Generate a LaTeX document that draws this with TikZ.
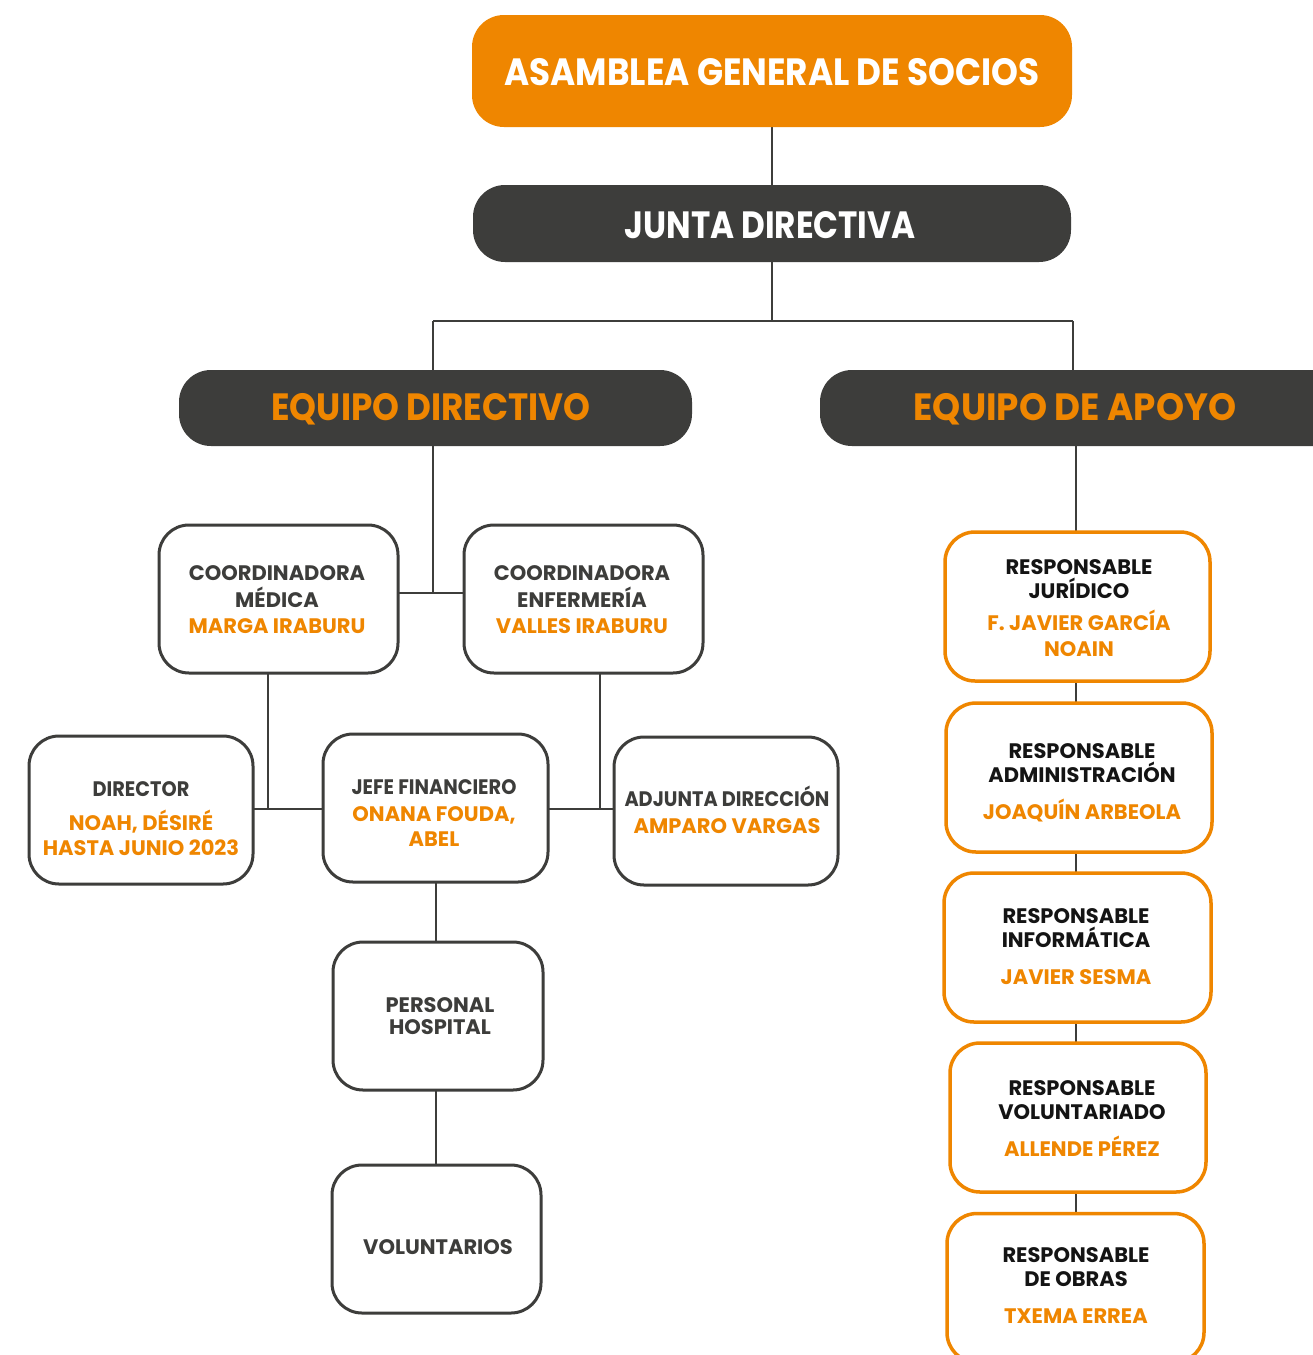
\documentclass[tikz,border=0pt]{standalone}
\usepackage{fontspec}
\setmainfont{Poppins}[FakeStretch=0.9]
\newfontfamily\boxfont{Poppins}
\newfontfamily\boxcond{Poppins}[FakeStretch=0.92]
\usetikzlibrary{calc}
\definecolor{og}{RGB}{239,134,0}
\definecolor{dg}{RGB}{61,61,59}
\definecolor{bk}{RGB}{20,20,20}
\begin{document}
\begin{tikzpicture}[x=1pt,y=-1pt,
  hdrbox/.style={rounded corners=32pt, inner sep=0pt, draw=none},
  darkbox/.style={draw=dg, line width=3pt, fill=white, rounded corners=30pt, inner sep=0pt},
  orgbox/.style={draw=og, line width=3.5pt, fill=white, rounded corners=30pt, inner sep=0pt},
  conn/.style={draw=dg, line width=2.8pt},
  bigtxt/.style={inner sep=0pt, font=\fontsize{38}{40}\selectfont\bfseries},
  txt/.style={align=center, inner sep=0pt, font=\boxfont\fontsize{21}{26.5}\selectfont\bfseries},
  rtxt/.style={align=center, inner sep=0pt, font=\boxfont\fontsize{21}{24}\selectfont\bfseries, text=bk},
]
\useasboundingbox (0,0) rectangle (1313,1355);
\fill[white] (0,0) rectangle (1313,1355);

% coordinates for connectors
\coordinate (jsplit) at (772,321);
\coordinate (lsplit) at (433,321);
\coordinate (rsplit) at (1073,321);
\coordinate (cjoin) at (433,593);
\coordinate (ljoin) at (268,809);
\coordinate (rjoin) at (600,809);

% connectors (drawn first, under boxes)
\draw[conn] (772,100) -- (772,200);
\draw[conn] (772,250) -- (jsplit);
\draw[conn] (lsplit) -- (rsplit);
\draw[conn] (lsplit) -- (433,390);
\draw[conn] (rsplit) -- (1073,390);
\draw[conn] (433,430) -- (cjoin);
\draw[conn] (380,593) -- (480,593);
\draw[conn] (268,660) -- (ljoin);
\draw[conn] (600,660) -- (rjoin);
\draw[conn] (240,809) -- (340,809);
\draw[conn] (530,809) -- (630,809);
\draw[conn] (436,870) -- (436,960);
\draw[conn] (436,1080) -- (436,1180);
\draw[conn] (1076,430) -- (1076,1250);

% headers
\node[hdrbox, fill=og, minimum width=600pt, minimum height=112pt] (asm) at (772,71) {};
\node[bigtxt, text=white] (asmt) at (772,72) {ASAMBLEA GENERAL DE SOCIOS};
\node[hdrbox, fill=dg, minimum width=598pt, minimum height=77pt] (junta) at (772,223.5) {};
\node[bigtxt, text=white] (juntat) at (770,225) {\addfontfeature{FakeStretch=0.86}JUNTA DIRECTIVA};
\node[hdrbox, fill=dg, minimum width=513pt, minimum height=76pt] (eqd) at (435.5,408) {};
\node[bigtxt, text=og] (eqdt) at (431,409) {EQUIPO DIRECTIVO};
\node[hdrbox, fill=dg, minimum width=540pt, minimum height=76pt] (eqa) at (1090,408) {};
\node[bigtxt, text=og] (eqat) at (1075,409) {\addfontfeature{FakeStretch=0.94}EQUIPO DE APOYO};

% left boxes
\node[darkbox, minimum width=239pt, minimum height=148pt] (cmed) at (278.5,599) {};
\node[txt, text=dg] (cmedt) at (277,600) {COORDINADORA\\MÉDICA\\\textcolor{og}{MARGA IRABURU}};
\node[darkbox, minimum width=239pt, minimum height=148pt] (cenf) at (583.5,599) {};
\node[txt, text=dg] (cenft) at (582,600) {COORDINADORA\\ENFERMERÍA\\\textcolor{og}{VALLES IRABURU}};
\node[darkbox, minimum width=224pt, minimum height=148pt] (dir) at (141,810) {};
\node[txt, text=dg] (dirt) at (141,819) {{\boxcond\bfseries DIRECTOR}\\[7pt]\textcolor{og}{NOAH, DÉSIRÉ}\\[-1pt]\textcolor{og}{HASTA JUNIO 2023}};
\node[darkbox, minimum width=225pt, minimum height=148pt] (jefe) at (435.5,808) {};
\node[txt, text=dg] (jefet) at (434,813) {{\boxcond\bfseries JEFE FINANCIERO}\\[1pt]\textcolor{og}{ONANA FOUDA,}\\[-2pt]\textcolor{og}{ABEL}};
\node[darkbox, minimum width=224pt, minimum height=148pt] (adj) at (726,811) {};
\node[txt, text=dg] (adjt) at (727,810) {{\boxcond\bfseries ADJUNTA DIRECCIÓN}\\\textcolor{og}{AMPARO VARGAS}};
\node[darkbox, minimum width=210pt, minimum height=148pt] (pers) at (438,1016) {};
\node[txt, text=dg] (perst) at (440,1016) {PERSONAL\\[-4pt]HOSPITAL};
\node[darkbox, minimum width=209pt, minimum height=148pt] (vol) at (436.5,1239) {};
\node[txt, text=dg] (volt) at (438,1247) {VOLUNTARIOS};

% right boxes
\node[orgbox, minimum width=265pt, minimum height=149pt] (rj) at (1077.5,606.5) {};
\node[rtxt] (rjt) at (1079,608) {RESPONSABLE\\JURÍDICO\\[8pt]\textcolor{og}{F. JAVIER GARCÍA}\\[2pt]\textcolor{og}{NOAIN}};
\node[orgbox, minimum width=266pt, minimum height=149pt] (ra) at (1079,777.5) {};
\node[rtxt] (rat) at (1082,783) {RESPONSABLE\\ADMINISTRACIÓN\\[13pt]\textcolor{og}{JOAQUÍN ARBEOLA}};
\node[orgbox, minimum width=267pt, minimum height=149pt] (ri) at (1077.5,947.5) {};
\node[rtxt] (rit) at (1076,947) {RESPONSABLE\\INFORMÁTICA\\[13pt]\textcolor{og}{JAVIER SESMA}};
\node[orgbox, minimum width=256pt, minimum height=149pt] (rv) at (1078,1117.5) {};
\node[rtxt] (rvt) at (1082,1119) {RESPONSABLE\\VOLUNTARIADO\\[13pt]\textcolor{og}{ALLENDE PÉREZ}};
\node[orgbox, minimum width=257pt, minimum height=149pt] (ro) at (1075.5,1288) {};
\node[rtxt] (rot) at (1076,1286) {RESPONSABLE\\DE OBRAS\\[13pt]\textcolor{og}{TXEMA ERREA}};
\end{tikzpicture}
\end{document}
